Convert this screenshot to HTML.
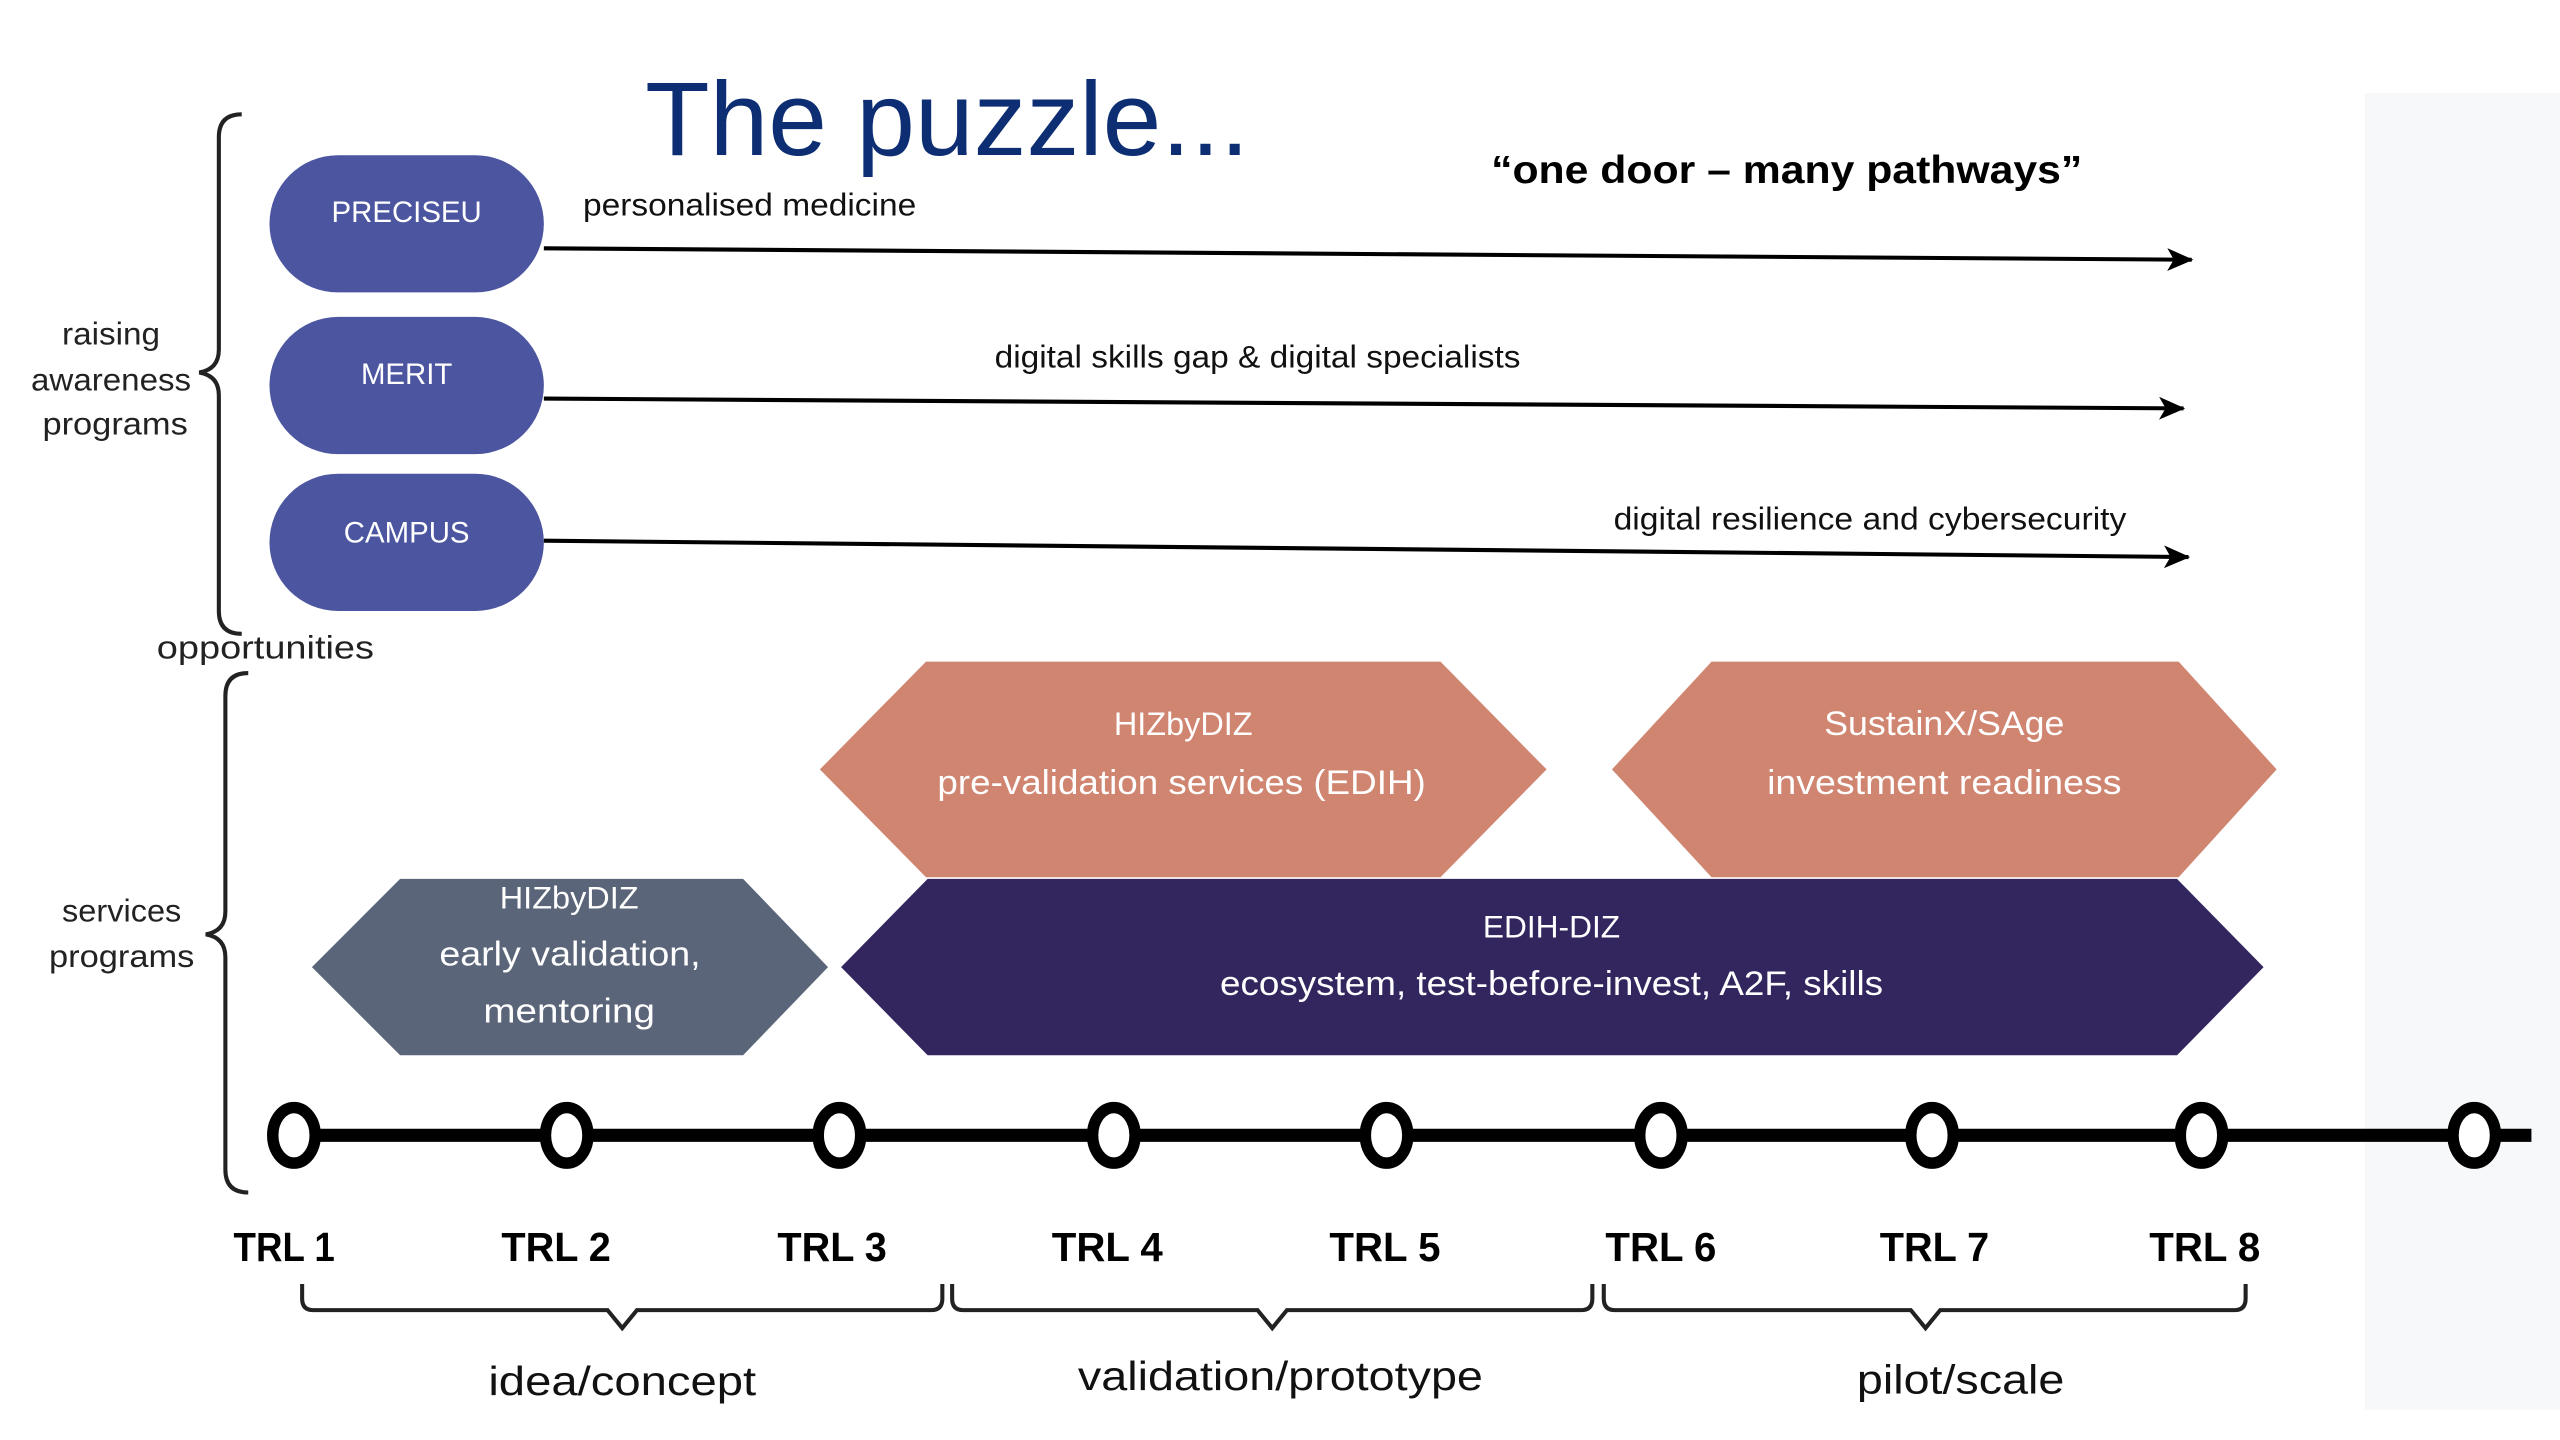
<!DOCTYPE html>
<html><head><meta charset="utf-8"><style>
html,body{margin:0;padding:0;background:#fff;}
svg{display:block;}
text{font-family:"Liberation Sans",sans-serif;}
</style></head><body>
<svg width="2560" height="1440" viewBox="0 0 1567.5 881.5" preserveAspectRatio="none" xmlns="http://www.w3.org/2000/svg">
<defs>
<marker id="ah" markerWidth="16" markerHeight="14" refX="15" refY="7" orient="auto" markerUnits="userSpaceOnUse">
<path d="M0,0 L16,7 L0,14 L4,7 Z" fill="#000"/>
</marker>
</defs>
<rect x="1448" y="57" width="120" height="806" fill="#f7f8fa"/>
<text x="395" y="95" font-size="64" fill="#0d2e73" textLength="370" lengthAdjust="spacingAndGlyphs">The puzzle...</text>
<text x="913" y="112" font-size="24" font-weight="bold" fill="#000" textLength="362" lengthAdjust="spacingAndGlyphs">“one door – many pathways”</text>

<path d="M148,70 Q134,70 134,84 L134,214 Q134,226 122,228 Q134,230 134,242 L134,374 Q134,388 148,388" fill="none" stroke="#222" stroke-width="2.5"/>
<path d="M152,412 Q138,412 138,426 L138,558 Q138,570 126,572 Q138,574 138,586 L138,716 Q138,730 152,730" fill="none" stroke="#222" stroke-width="2.5"/>
<g font-size="19" fill="#222">
<text x="38" y="211" textLength="60" lengthAdjust="spacingAndGlyphs">raising</text>
<text x="19" y="239" textLength="98" lengthAdjust="spacingAndGlyphs">awareness</text>
<text x="26" y="266" textLength="89" lengthAdjust="spacingAndGlyphs">programs</text>
<text x="38" y="564" textLength="73" lengthAdjust="spacingAndGlyphs">services</text>
<text x="30" y="592" textLength="89" lengthAdjust="spacingAndGlyphs">programs</text>
</g>
<text x="96" y="403" font-size="20" fill="#222" textLength="133" lengthAdjust="spacingAndGlyphs">opportunities</text>

<g fill="#4b55a0">
<rect x="165" y="95" width="168" height="84" rx="42"/>
<rect x="165" y="194" width="168" height="84" rx="42"/>
<rect x="165" y="290" width="168" height="84" rx="42"/>
</g>
<g font-size="18" fill="#fff" text-anchor="middle">
<text x="249" y="136">PRECISEU</text><text x="249" y="235">MERIT</text><text x="249" y="332">CAMPUS</text>
</g>
<g stroke="#000" stroke-width="2.5" marker-end="url(#ah)">
<line x1="333" y1="152" x2="1342" y2="159"/>
<line x1="333" y1="244" x2="1337" y2="250"/>
<line x1="333" y1="331" x2="1340" y2="341"/>
</g>
<g font-size="19" fill="#111">
<text x="357" y="132" textLength="204" lengthAdjust="spacingAndGlyphs">personalised medicine</text>
<text x="609" y="225" textLength="322" lengthAdjust="spacingAndGlyphs">digital skills gap &amp; digital specialists</text>
<text x="988" y="324" textLength="314" lengthAdjust="spacingAndGlyphs">digital resilience and cybersecurity</text>
</g>

<polygon points="502,471 567,405 882,405 947,471 882,537 567,537" fill="#d08571"/>
<polygon points="987,471 1048,405 1334,405 1394,471 1334,537 1048,537" fill="#d08571"/>
<polygon points="191,592 245,538 455,538 507,592 455,646 245,646" fill="#5a6579"/>
<polygon points="515,592 568,538 1333,538 1386,592 1333,646 568,646" fill="#33265e"/>
<g fill="#fff" font-size="21">
<text x="682" y="450" font-size="20" textLength="85" lengthAdjust="spacingAndGlyphs">HIZbyDIZ</text>
<text x="574" y="486" textLength="299" lengthAdjust="spacingAndGlyphs">pre-validation services (EDIH)</text>
<text x="1117" y="450" textLength="147" lengthAdjust="spacingAndGlyphs">SustainX/SAge</text>
<text x="1082" y="486" textLength="217" lengthAdjust="spacingAndGlyphs">investment readiness</text>
<text x="306" y="556" font-size="19" textLength="85" lengthAdjust="spacingAndGlyphs">HIZbyDIZ</text>
<text x="269" y="591" textLength="160" lengthAdjust="spacingAndGlyphs">early validation,</text>
<text x="296" y="626" textLength="105" lengthAdjust="spacingAndGlyphs">mentoring</text>
<text x="908" y="574" font-size="19" textLength="84" lengthAdjust="spacingAndGlyphs">EDIH-DIZ</text>
<text x="747" y="609" textLength="406" lengthAdjust="spacingAndGlyphs">ecosystem, test-before-invest, A2F, skills</text>
</g>

<line x1="180" y1="695" x2="1550" y2="695" stroke="#000" stroke-width="8"/>
<g fill="#fff" stroke="#000" stroke-width="7">
<ellipse cx="180" cy="695" rx="13" ry="17"/><ellipse cx="347" cy="695" rx="13" ry="17"/>
<ellipse cx="514" cy="695" rx="13" ry="17"/><ellipse cx="682" cy="695" rx="13" ry="17"/>
<ellipse cx="849" cy="695" rx="13" ry="17"/><ellipse cx="1017" cy="695" rx="13" ry="17"/>
<ellipse cx="1183" cy="695" rx="13" ry="17"/><ellipse cx="1348" cy="695" rx="13" ry="17"/>
<ellipse cx="1515" cy="695" rx="13" ry="17"/>
</g>
<g font-size="25" font-weight="bold" fill="#000">
<text x="143" y="772" textLength="62" lengthAdjust="spacingAndGlyphs">TRL 1</text>
<text x="307" y="772" textLength="67" lengthAdjust="spacingAndGlyphs">TRL 2</text>
<text x="476" y="772" textLength="67" lengthAdjust="spacingAndGlyphs">TRL 3</text>
<text x="644" y="772" textLength="68" lengthAdjust="spacingAndGlyphs">TRL 4</text>
<text x="814" y="772" textLength="68" lengthAdjust="spacingAndGlyphs">TRL 5</text>
<text x="983" y="772" textLength="68" lengthAdjust="spacingAndGlyphs">TRL 6</text>
<text x="1151" y="772" textLength="67" lengthAdjust="spacingAndGlyphs">TRL 7</text>
<text x="1316" y="772" textLength="68" lengthAdjust="spacingAndGlyphs">TRL 8</text>
</g>
<g fill="none" stroke="#222" stroke-width="2.5">
<path d="M185,786 L185,795 Q185,802 192,802 L372,802 L381,813 L390,802 L570,802 Q577,802 577,795 L577,786"/>
<path d="M583,786 L583,795 Q583,802 590,802 L770,802 L779,813 L788,802 L968,802 Q975,802 975,795 L975,786"/>
<path d="M982,786 L982,795 Q982,802 989,802 L1170,802 L1179,813 L1188,802 L1368,802 Q1375,802 1375,795 L1375,786"/>
</g>
<g font-size="25" fill="#111">
<text x="299" y="854" textLength="164" lengthAdjust="spacingAndGlyphs">idea/concept</text>
<text x="660" y="851" textLength="248" lengthAdjust="spacingAndGlyphs">validation/prototype</text>
<text x="1137" y="853" textLength="127" lengthAdjust="spacingAndGlyphs">pilot/scale</text>
</g>
</svg>
</body></html>
